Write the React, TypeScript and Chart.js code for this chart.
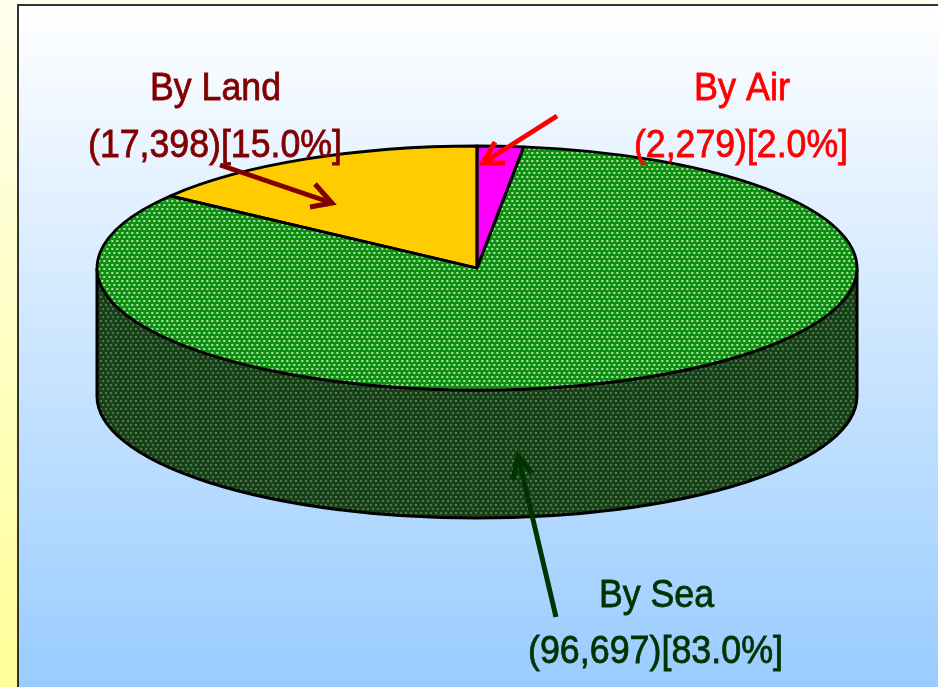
import React, { useEffect, useRef } from "react";
import { Chart, registerables } from "chart.js";

Chart.register(...registerables);

const categories = ["By Air", "By Sea", "By Land"];
const shipments = [2279, 96697, 17398];
const shares = ["2.0%", "83.0%", "15.0%"];
const amounts = ["2,279", "96,697", "17,398"];

const W = 938;
const H = 687;
const CX = 477;
const CY = 268;
const RX = 380;
const RY = 122;
const DEPTH = 128;
const K = RX / RY;

function dotted(base: string, dot: string, k = 1): CanvasPattern {
  const c = document.createElement("canvas");
  c.width = 10;
  c.height = 8;
  const g = c.getContext("2d")!;
  g.fillStyle = base;
  g.fillRect(0, 0, 10, 8);
  g.fillStyle = dot;
  [[0, 0], [5, 0], [2, 4], [7, 4]].forEach(([x, y]) => g.fillRect(x, y, 2, 2));
  const p = g.createPattern(c, "repeat")!;
  p.setTransform(new DOMMatrix().scale(1 / k, 1));
  return p;
}

type Note = {
  idx: number;
  color: string;
  l1: [number, number, number];
  l2: [number, number, number];
  arrow: number[];
};

const notes: Note[] = [
  { idx: 2, color: "#800000", l1: [150, 100, 131], l2: [88, 157, 254], arrow: [220, 165, 332, 203, 315, 184, 310, 207] },
  { idx: 0, color: "#ff0000", l1: [694, 100, 96], l2: [634, 157, 214], arrow: [557, 116, 483, 163, 495, 142, 505, 163] },
  { idx: 1, color: "#003300", l1: [599, 607, 115], l2: [528, 663, 255], arrow: [556, 617, 518, 456, 513, 480, 532, 473] },
];

const piePlugin = {
  id: "pie3d",
  beforeDraw(chart: any) {
    const ctx = chart.ctx;
    ctx.save();
    const strip = ctx.createLinearGradient(0, 0, 0, H);
    strip.addColorStop(0, "#ffffee");
    strip.addColorStop(1, "#ffff99");
    ctx.fillStyle = strip;
    ctx.fillRect(0, 0, W, H);
    const panel = ctx.createLinearGradient(0, 5, 0, H);
    panel.addColorStop(0, "#ffffff");
    panel.addColorStop(1, "#99ccff");
    ctx.fillStyle = panel;
    ctx.fillRect(18, 5, W - 18, H - 5);
    ctx.fillStyle = "#333333";
    ctx.fillRect(17, 4, W - 17, 2);
    ctx.fillRect(17, 4, 2, H - 4);
    ctx.restore();
  },
  beforeDatasetsDraw(chart: any) {
    const ctx = chart.ctx;
    const arcs = chart.getDatasetMeta(0).data;
    arcs.forEach((arc: any) => {
      const a = Math.max(arc.startAngle, 0);
      const b = Math.min(arc.endAngle, Math.PI);
      if (b <= a) return;
      ctx.save();
      ctx.beginPath();
      ctx.ellipse(CX, CY + DEPTH, RX, RY, 0, a, b);
      ctx.ellipse(CX, CY, RX, RY, 0, b, a, true);
      ctx.closePath();
      ctx.fillStyle = dotted("#174217", "#537453");
      ctx.fill();
      ctx.strokeStyle = "#000000";
      ctx.lineWidth = 3;
      ctx.stroke();
      ctx.restore();
    });
    ctx.save();
    ctx.translate(CX, 0);
    ctx.scale(K, 1);
    ctx.translate(-CX, 0);
  },
  afterDatasetsDraw(chart: any) {
    const ctx = chart.ctx;
    ctx.restore();
    const arcs = chart.getDatasetMeta(0).data;
    arcs.forEach((arc: any) => {
      ctx.save();
      ctx.beginPath();
      ctx.moveTo(CX, CY);
      ctx.ellipse(CX, CY, RX, RY, 0, arc.startAngle, arc.endAngle);
      ctx.closePath();
      ctx.strokeStyle = "#000000";
      ctx.lineWidth = 2.8;
      ctx.lineJoin = "round";
      ctx.stroke();
      ctx.restore();
    });
    notes.forEach((n) => {
      ctx.save();
      ctx.fillStyle = n.color;
      ctx.strokeStyle = n.color;
      ctx.lineWidth = 0.8;
      ctx.font = '39px "Liberation Sans", Arial, sans-serif';
      ctx.textAlign = "left";
      ctx.textBaseline = "alphabetic";
      const second = `(${amounts[n.idx]})[${shares[n.idx]}]`;
      ctx.fillText(categories[n.idx], n.l1[0], n.l1[1], n.l1[2]);
      ctx.strokeText(categories[n.idx], n.l1[0], n.l1[1], n.l1[2]);
      ctx.fillText(second, n.l2[0], n.l2[1], n.l2[2]);
      ctx.strokeText(second, n.l2[0], n.l2[1], n.l2[2]);
      const [x0, y0, x1, y1, bx, by, cx, cy] = n.arrow;
      ctx.lineWidth = 5;
      ctx.lineCap = "butt";
      ctx.lineJoin = "miter";
      ctx.beginPath();
      ctx.moveTo(x0, y0);
      ctx.lineTo(x1, y1);
      ctx.moveTo(bx, by);
      ctx.lineTo(x1, y1);
      ctx.lineTo(cx, cy);
      ctx.stroke();
      ctx.restore();
    });
  },
};

export default function App() {
  const ref = useRef<HTMLCanvasElement>(null);
  useEffect(() => {
    const chart = new Chart(ref.current!, {
      type: "pie",
      data: {
        labels: categories,
        datasets: [
          {
            data: shipments,
            backgroundColor: ["#ff00ff", dotted("#0f8f0f", "#b4e2b4", K), "#ffcc00"],
            borderWidth: 0,
            hoverOffset: 0,
            clip: false,
          } as any,
        ],
      },
      options: {
        animation: false,
        responsive: false,
        events: [],
        layout: { padding: { left: CX - RY, top: CY - RY, right: W - CX - RY, bottom: H - CY - RY } },
        plugins: { legend: { display: false }, tooltip: { enabled: false } },
      },
      plugins: [piePlugin],
    });
    return () => chart.destroy();
  }, []);
  return (
    <div style={{ position: "fixed", left: 0, top: 0, width: W, height: H, overflow: "hidden" }}>
      <canvas ref={ref} width={W} height={H} style={{ display: "block", width: W, height: H }} />
    </div>
  );
}
